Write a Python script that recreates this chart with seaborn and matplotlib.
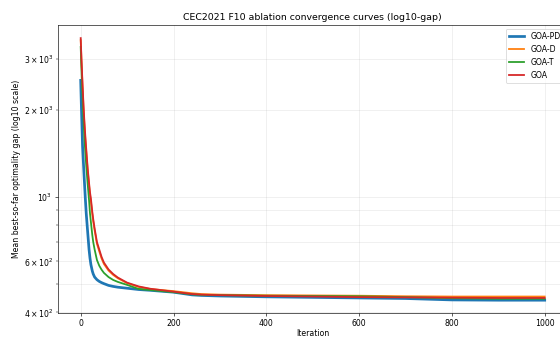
import numpy as np
import pandas as pd
import matplotlib
matplotlib.use("Agg")
import matplotlib.pyplot as plt
import seaborn as sns

iterations = [0, 1, 2, 4, 6, 8, 10, 12, 15, 18, 20, 22, 25, 27, 30, 35, 40, 45, 50, 60, 70, 80,
              100, 125, 150, 200, 240, 260, 300, 400, 500, 600, 700, 800, 900, 1000]

goa_pd = [2530, 2200, 1930, 1500, 1300, 1130, 988, 876, 759, 660, 616, 585, 556, 543, 530, 519, 512,
          507, 503, 496, 492, 489, 485, 480, 477, 470, 460, 458, 456, 453, 451, 449, 447, 442, 441, 441]
goa_d = [3480, 3160, 2850, 2400, 2040, 1780, 1580, 1430, 1240, 1100, 1020, 965, 875, 825, 768, 690, 650,
         614, 588, 558, 539, 525, 505, 490, 482, 474, 466, 463, 461, 459, 458, 457, 455, 454, 454, 454]
goa_t = [3300, 2950, 2650, 2200, 1850, 1600, 1420, 1280, 1110, 975, 880, 820, 740, 700, 660, 607, 580,
         562, 548, 530, 518, 510, 498, 482, 478, 470, 462, 460, 459, 457, 456, 455, 452, 448, 446, 446]
goa = [3540, 3200, 2900, 2450, 2080, 1820, 1620, 1460, 1260, 1120, 1040, 988, 890, 840, 780, 700, 660,
       622, 595, 563, 543, 528, 507, 492, 483, 472, 463, 461, 459, 456, 454, 452, 451, 450, 449, 449]

series_names = ["GOA-PD", "GOA-D", "GOA-T", "GOA"]
series_values = [goa_pd, goa_d, goa_t, goa]
colors = ["#1f77b4", "#ff7f0e", "#2ca02c", "#d62728"]
widths = [3.5, 2.3, 2.3, 2.3]

fig = plt.figure(figsize=(10, 338 / 56), dpi=56)
ax = fig.add_axes([57.5 / 560, (338 - 313.3) / 338, 510.4 / 560, 288.3 / 338])

for name, vals, c, lw in zip(series_names, series_values, colors, widths):
    df = pd.DataFrame({"Iteration": iterations, "gap": vals})
    sns.lineplot(data=df, x="Iteration", y="gap", ax=ax, color=c, linewidth=lw, label=name)

ax.set_yscale("log")
ax.grid(True, which="both", alpha=0.3)
ax.set_title("CEC2021 F10 ablation convergence curves (log10-gap)")
ax.set_xlabel("Iteration", labelpad=2)
ax.set_ylabel("Mean best-so-far optimality gap (log10 scale)")
ax.legend(loc="upper right")

fig.savefig("out.png", dpi=56)
